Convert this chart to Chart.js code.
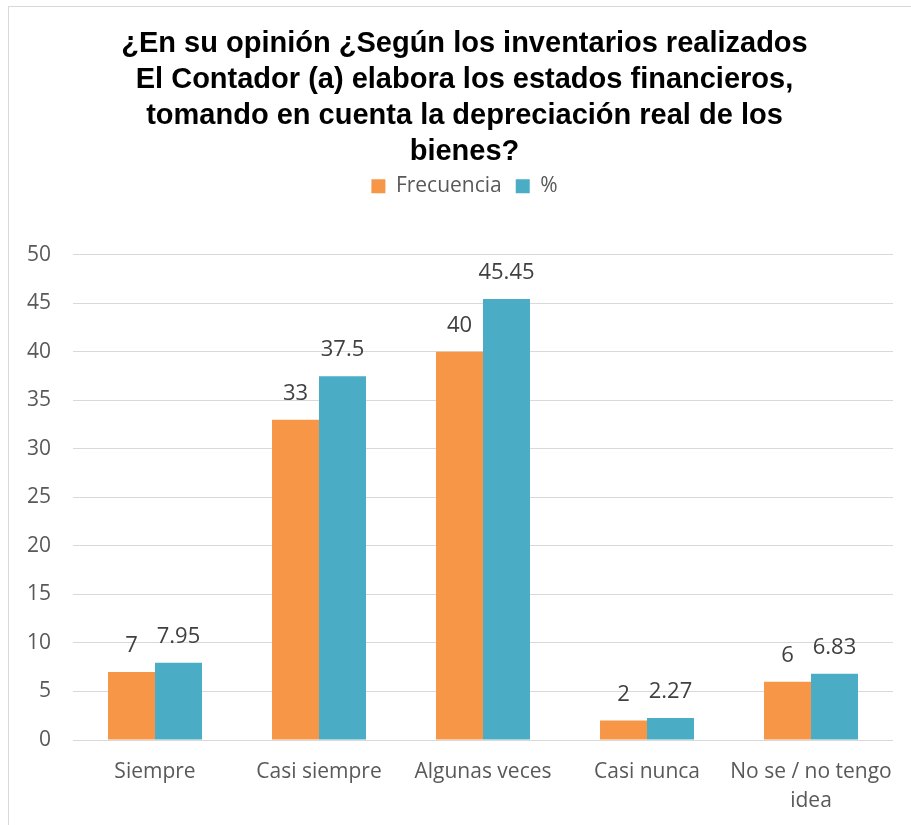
<!DOCTYPE html>
<html>
<head>
<meta charset="utf-8">
<script src="https://cdn.jsdelivr.net/npm/chart.js@4/dist/chart.umd.min.js"></script>
<style>
    html, body { margin: 0; padding: 0; background: #fff; overflow: hidden; }
    #frame {
        position: absolute; left: 8px; top: 6px;
        width: 920px; height: 840px;
        border: 1px solid #d9d9d9; box-sizing: border-box;
    }
    #wrap { position: absolute; left: 0; top: 0; width: 911px; height: 825px; }
</style>
</head>
<body>
<div id="frame"></div>
<div id="wrap"><canvas id="chart"></canvas></div>
<script>
const titleLines = [
    '¿En su opinión ¿Según los inventarios realizados',
    'El Contador (a) elabora los estados financieros,',
    'tomando en cuenta la depreciación real de los',
    'bienes?',
];
const categories = ['Siempre', 'Casi siempre', 'Algunas veces', 'Casi nunca', ['No se / no tengo', 'idea']];
const frecuencia = [7, 33, 40, 2, 6];
const porcentaje = [7.95, 37.5, 45.45, 2.27, 6.83];
const seriesNames = ['Frecuencia', '%'];
const yTicks = { min: 0, max: 50, step: 5 };

const bodyFont = '"Open Sans", "Liberation Sans", sans-serif';

// draws the value above each bar
const valueLabels = {
    id: 'valueLabels',
    afterDatasetsDraw(chart) {
        const ctx = chart.ctx;
        ctx.save();
        ctx.font = `22px ${bodyFont}`;
        ctx.fillStyle = '#404040';
        ctx.textAlign = 'center';
        ctx.textBaseline = 'middle';
        chart.data.datasets.forEach((ds, i) => {
            chart.getDatasetMeta(i).data.forEach((bar, j) => {
                ctx.fillText(String(ds.data[j]), bar.x, bar.y - 26);
            });
        });
        ctx.restore();
    },
};

// extra room under the legend
const legendGap = {
    id: 'legendGap',
    beforeInit(chart) {
        const legend = chart.legend;
        if (!legend) return;
        const fit = legend.fit;
        legend.fit = function () {
            fit.call(this);
            this.height += 48;
        };
    },
};

new Chart(document.getElementById('chart'), {
    type: 'bar',
    data: {
        labels: categories,
        datasets: [
            { label: seriesNames[0], data: frecuencia, backgroundColor: '#F79646' },
            { label: seriesNames[1], data: porcentaje, backgroundColor: '#4BACC6' },
        ],
    },
    options: {
        responsive: true,
        maintainAspectRatio: false,
        animation: false,
        datasets: {
            bar: { barPercentage: 1, categoryPercentage: 0.573 },
        },
        layout: { padding: { left: 18, right: 0, top: 0, bottom: 0 } },
        plugins: {
            title: {
                display: true,
                text: titleLines,
                color: '#000',
                font: { family: '"Liberation Sans", Arial, sans-serif', size: 29, weight: 'bold', lineHeight: 1.24 },
                padding: { top: 26, bottom: -8 },
            },
            legend: {
                position: 'top',
                labels: {
                    color: '#595959',
                    font: { family: bodyFont, size: 21 },
                    boxWidth: 14,
                    boxHeight: 14,
                    padding: 14,
                },
            },
            tooltip: { enabled: false },
        },
        scales: {
            x: {
                afterFit(scale) { scale.height = 85; },
                grid: { display: false },
                border: { display: false },
                ticks: {
                    color: '#595959',
                    font: { family: bodyFont, size: 21, lineHeight: 1.35 },
                    padding: 10,
                    maxRotation: 0,
                    autoSkip: false,
                },
            },
            y: {
                min: yTicks.min,
                max: yTicks.max,
                afterFit(scale) { scale.width = 55; },
                grid: { color: '#d9d9d9', lineWidth: 1, drawTicks: false },
                border: { display: false },
                ticks: {
                    stepSize: yTicks.step,
                    color: '#595959',
                    font: { family: bodyFont, size: 21 },
                    padding: 22,
                },
            },
            // empty right-hand axis, only keeps the plot clear of the right edge
            yRight: {
                position: 'right',
                afterFit(scale) { scale.width = 18; },
                grid: { display: false },
                border: { display: false },
                ticks: { display: false },
            },
        },
    },
    plugins: [valueLabels, legendGap],
});
</script>
</body>
</html>
